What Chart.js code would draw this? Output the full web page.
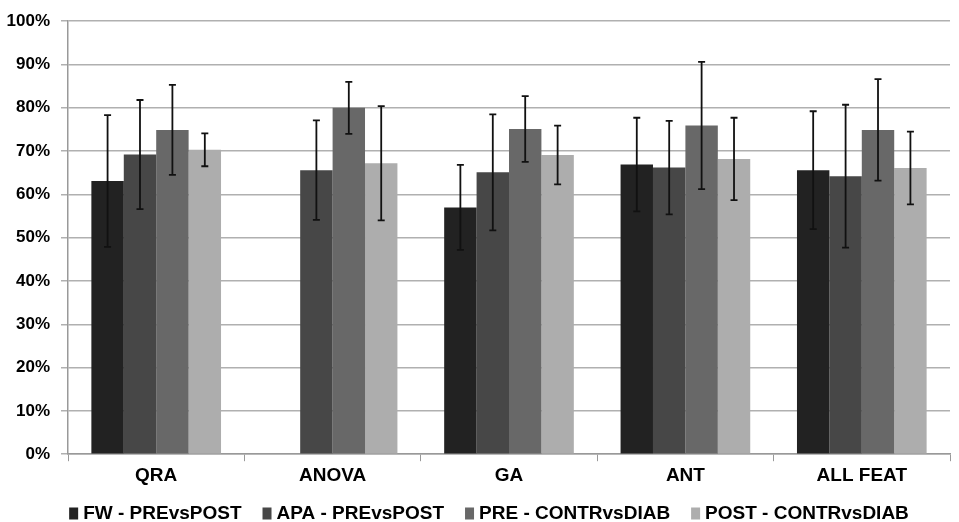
<!DOCTYPE html>
<html>
<head>
<meta charset="utf-8">
<script src="https://cdn.jsdelivr.net/npm/chart.js@4/dist/chart.umd.min.js"></script>
<style>
html,body{margin:0;padding:0;background:#fff;}
#wrap{width:959px;height:522px;position:relative;}
</style>
</head>
<body>
<div id="wrap"><canvas id="c" width="959" height="522"></canvas></div>
<script>
const categories = ["QRA", "ANOVA", "GA", "ANT", "ALL FEAT"];
const seriesNames = ["FW - PREvsPOST", "APA - PREvsPOST", "PRE - CONTRvsDIAB", "POST - CONTRvsDIAB"];
const fwValues   = [63.1, null, 57.0, 66.9, 65.6];
const apaValues  = [69.2, 65.6, 65.1, 66.2, 64.2];
const preValues  = [74.9, 80.0, 75.1, 75.9, 74.9];
const postValues = [70.3, 67.2, 69.1, 68.2, 66.1];
const fwErr   = [15.2, null, 9.8, 10.8, 13.6];
const apaErr  = [12.6, 11.5, 13.4, 10.8, 16.5];
const preErr  = [10.4, 6.0, 7.6, 14.7, 11.7];
const postErr = [3.8, 13.2, 6.8, 9.5, 8.4];
const yTicks = [0,10,20,30,40,50,60,70,80,90,100];

const colors = ["#222222", "#474747", "#686868", "#adadad"];
const values = [fwValues, apaValues, preValues, postValues];
const errors = [fwErr, apaErr, preErr, postErr];
const FONT = "'Liberation Sans', Arial, sans-serif";

const errorBarPlugin = {
  id: 'errorBars',
  afterDatasetsDraw(chart) {
    const ctx = chart.ctx;
    const y = chart.scales.y;
    ctx.save();
    ctx.strokeStyle = '#111';
    ctx.lineWidth = 1.8;
    chart.data.datasets.forEach((ds, i) => {
      const meta = chart.getDatasetMeta(i);
      meta.data.forEach((bar, j) => {
        const v = ds.data[j];
        const e = ds.errors[j];
        if (v == null || e == null) return;
        const x = bar.x;
        const yt = y.getPixelForValue(v + e);
        const yb = y.getPixelForValue(v - e);
        ctx.beginPath();
        ctx.moveTo(x, yt); ctx.lineTo(x, yb);
        ctx.moveTo(x - 3.5, yt); ctx.lineTo(x + 3.5, yt);
        ctx.moveTo(x - 3.5, yb); ctx.lineTo(x + 3.5, yb);
        ctx.stroke();
      });
    });
    ctx.restore();
  }
};

const legendPlugin = {
  id: 'customLegend',
  afterDraw(chart) {
    const ctx = chart.ctx;
    ctx.save();
    ctx.font = "bold 19px " + FONT;
    ctx.textBaseline = 'alphabetic';
    ctx.fillStyle = '#000';
    const markerW = 9, gapMT = 5, gapItem = 21;
    const widths = seriesNames.map(n => ctx.measureText(n).width);
    const total = widths.reduce((a, w) => a + markerW + gapMT + w, 0) + gapItem * (seriesNames.length - 1);
    let x = 489 - total / 2;
    const baseline = 519;
    seriesNames.forEach((n, i) => {
      ctx.fillStyle = colors[i];
      ctx.fillRect(x, 507.5, markerW, 12);
      x += markerW + gapMT;
      ctx.fillStyle = '#000';
      ctx.fillText(n, x, baseline);
      x += widths[i] + gapItem;
    });
    ctx.restore();
  }
};

Chart.defaults.font.family = FONT;
Chart.defaults.color = '#000';

new Chart(document.getElementById('c'), {
  type: 'bar',
  data: {
    labels: categories,
    datasets: seriesNames.map((n, i) => ({
      label: n,
      data: values[i],
      errors: errors[i],
      backgroundColor: colors[i],
      borderWidth: 0,
      categoryPercentage: 0.735,
      barPercentage: 1.0
    }))
  },
  options: {
    responsive: false,
    animation: false,
    layout: { padding: { top: 14, right: 9, left: 0, bottom: 32 } },
    plugins: {
      legend: { display: false },
      tooltip: { enabled: false }
    },
    scales: {
      x: {
        grid: { display: true, drawOnChartArea: false, color: '#999', tickLength: 7, offset: true },
        border: { color: '#999', width: 1.5 },
        ticks: { font: { size: 19, weight: 'bold' }, color: '#000', padding: 3 }
      },
      y: {
        min: 0, max: 100,
        afterFit(scale) { scale.width = 68; },
        afterBuildTicks(scale) { scale.ticks = yTicks.map(v => ({ value: v })); },
        grid: { color: '#b0b0b0', lineWidth: 1.5, tickLength: 7 },
        border: { color: '#999', width: 1.5 },
        ticks: {
          font: { size: 17, weight: 'bold' }, color: '#000', padding: 11,
          callback: v => v + '%'
        }
      }
    }
  },
  plugins: [errorBarPlugin, legendPlugin]
});
</script>
</body>
</html>
